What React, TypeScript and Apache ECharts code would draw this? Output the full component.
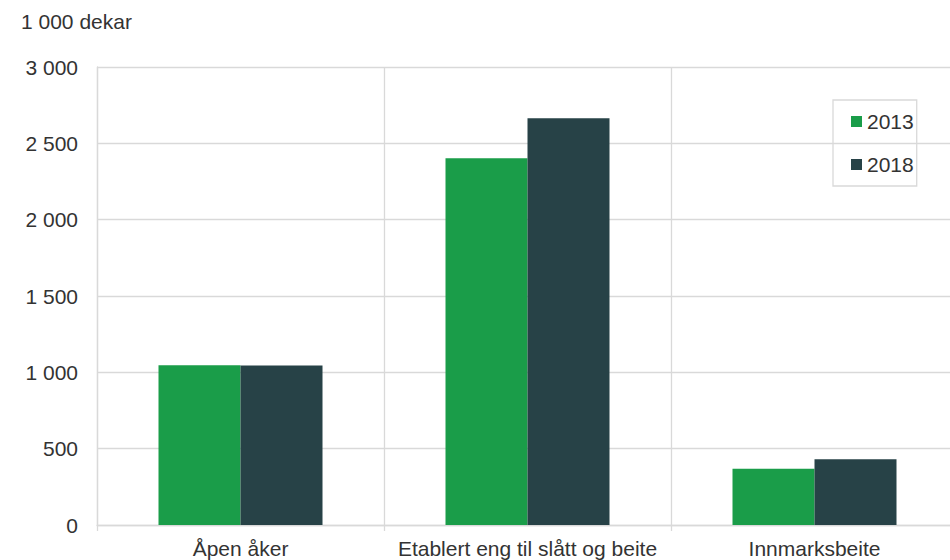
import React, { useEffect, useRef } from "react";
import * as echarts from "echarts";

const categories = ["Åpen åker", "Etablert eng til slått og beite", "Innmarksbeite"];
const values2013 = [1046, 2402, 369];
const values2018 = [1045, 2664, 430];
const seriesNames = ["2013", "2018"];
const unitLabel = "1 000 dekar";

const FONT = "'Liberation Sans', Arial, sans-serif";
const TEXT = "#333333";
const GRID = "#d9d9d9";
const FS = 21;

function fmt(v: number): string {
  return String(v).replace(/\B(?=(\d{3})+(?!\d))/g, " ");
}

export default function App() {
  const ref = useRef<HTMLDivElement>(null);
  useEffect(() => {
    if (!ref.current) return;
    const chart = echarts.init(ref.current, undefined, { renderer: "svg" });
    chart.setOption({
      animation: false,
      backgroundColor: "#ffffff",
      textStyle: { fontFamily: FONT },
      title: {
        text: unitLabel,
        left: 21,
        top: 11,
        padding: 0,
        textStyle: { fontSize: FS, fontWeight: "normal", color: TEXT, fontFamily: FONT },
      },
      legend: {
        orient: "vertical",
        left: 833,
        top: 100,
        padding: [11, 3, 11, 18],
        itemWidth: 11,
        itemHeight: 11,
        itemGap: 22,
        borderColor: GRID,
        borderWidth: 1.3,
        icon: "rect",
        data: seriesNames,
        textStyle: { fontSize: FS, color: TEXT, fontFamily: FONT },
      },
      grid: { left: 97, top: 67, width: 861, height: 458, containLabel: false },
      xAxis: {
        type: "category",
        data: categories,
        axisLine: { show: true, lineStyle: { color: GRID, width: 1.3 } },
        axisTick: { show: true, interval: 0, length: 6, lineStyle: { color: GRID, width: 1.3 } },
        splitLine: { show: true, interval: 0, lineStyle: { color: GRID, width: 1.3 } },
        axisLabel: { interval: 0, fontSize: FS, color: TEXT, margin: 13, fontFamily: FONT },
      },
      yAxis: {
        type: "value",
        min: 0,
        max: 3000,
        interval: 500,
        axisLine: { show: true, lineStyle: { color: GRID, width: 1.3 } },
        axisTick: { show: false },
        splitLine: { show: true, lineStyle: { color: GRID, width: 1.3 } },
        axisLabel: { fontSize: FS, color: TEXT, margin: 19, fontFamily: FONT, formatter: (v: number) => fmt(v) },
      },
      series: [
        {
          name: seriesNames[0],
          type: "bar",
          data: values2013,
          barWidth: 82,
          barGap: "0%",
          itemStyle: { color: "#1a9d49" },
        },
        {
          name: seriesNames[1],
          type: "bar",
          data: values2018,
          barWidth: 82,
          barGap: "0%",
          itemStyle: { color: "#274247" },
        },
      ],
    });
    return () => chart.dispose();
  }, []);
  return (
    <div style={{ position: "absolute", left: 0, top: 0, width: 950, height: 560, overflow: "hidden" }}>
      <div ref={ref} style={{ width: 970, height: 560 }} />
    </div>
  );
}
